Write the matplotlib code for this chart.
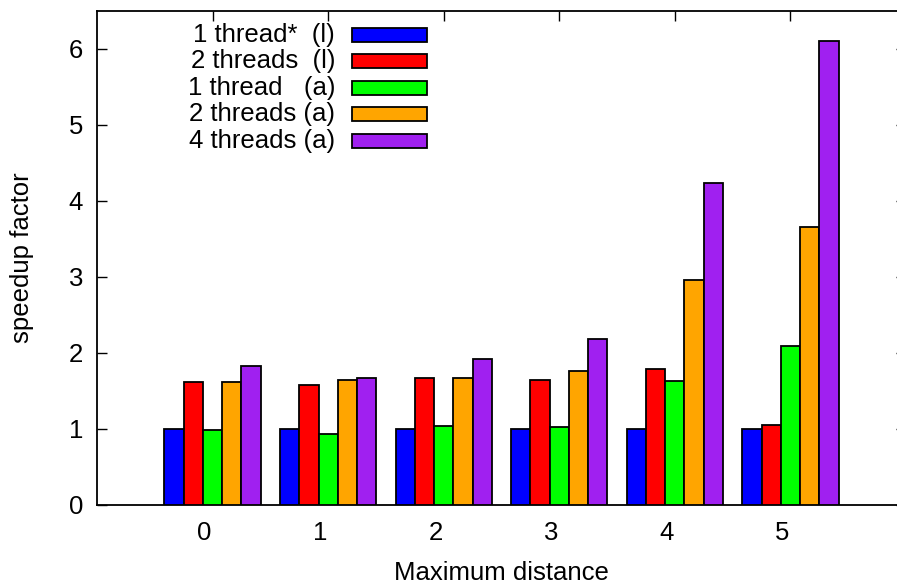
import numpy as np
import matplotlib
matplotlib.use("Agg")
import matplotlib.pyplot as plt
from matplotlib.patches import Rectangle
import matplotlib.transforms as mtransforms

plt.rcParams['font.family'] = ['Liberation Sans', 'DejaVu Sans']

# data
distances = [0, 1, 2, 3, 4, 5]
series_labels = ['1 thread*  (l)', '2 threads  (l)', '1 thread   (a)',
                 '2 threads (a)', '4 threads (a)']
series_colors = ['#0000ff', '#ff0000', '#00ff00', '#ffa500', '#a020f0']
one_thread_l = [1.00, 1.00, 1.00, 1.00, 1.00, 1.00]
two_threads_l = [1.62, 1.57, 1.66, 1.64, 1.79, 1.05]
one_thread_a = [0.98, 0.93, 1.03, 1.02, 1.63, 2.09]
two_threads_a = [1.61, 1.64, 1.66, 1.76, 2.96, 3.65]
four_threads_a = [1.82, 1.66, 1.91, 2.18, 4.23, 6.11]
series = [one_thread_l, two_threads_l, one_thread_a, two_threads_a, four_threads_a]

fs = 18.5
W, H = 897, 585
fig = plt.figure(figsize=(W / 100, H / 100), dpi=100)
# frame runs past the right edge of the picture, like the original
ax = fig.add_axes([97 / W, (H - 504.5) / H, (906 - 97) / W, (504.5 - 11) / H])

n = len(series)
gap = 1
bw = 1.0 / (n + gap)
x = np.arange(len(distances))
for j, vals in enumerate(series):
    ax.bar(x + (j - (n - 1) / 2) * bw, vals, width=bw, color=series_colors[j],
           edgecolor='black', linewidth=1.3, zorder=3)

ax.set_xlim(-1, 6)
ax.set_ylim(0, 6.5)
ax.set_xticks(x)
ax.set_xticklabels([str(d) for d in distances])
ax.set_yticks(range(0, 7))
ax.tick_params(axis='both', direction='in', length=7, width=1, labelsize=fs)
ax.tick_params(axis='x', bottom=False, top=True, pad=12)
ax.tick_params(axis='y', left=True, right=True, pad=10)
# gnuplot puts the x labels a bit left of the group centre
off = mtransforms.ScaledTranslation(-8 / 100, 0, fig.dpi_scale_trans)
for lbl in ax.get_xticklabels():
    lbl.set_transform(lbl.get_transform() + off)
for s in ax.spines.values():
    s.set_linewidth(1.3)

ax.set_xlabel('Maximum distance', fontsize=fs)
ax.xaxis.set_label_coords(0.5, -0.115)
ax.set_ylabel('speedup factor', fontsize=fs)
ax.yaxis.set_label_coords(-0.078, 0.5)

# legend drawn gnuplot-style: right aligned text, box samples
for k, (lab, col) in enumerate(zip(series_labels, series_colors)):
    yc = 1 - (35 + 26.4 * k) / H
    fig.text(335 / W, yc, lab, ha='right', va='center', fontsize=fs)
    fig.patches.append(Rectangle((352 / W, yc - 7 / H), 75 / W, 14 / H,
                                 transform=fig.transFigure, facecolor=col,
                                 edgecolor='black', linewidth=1.3))

fig.savefig('out.png', dpi=100)
